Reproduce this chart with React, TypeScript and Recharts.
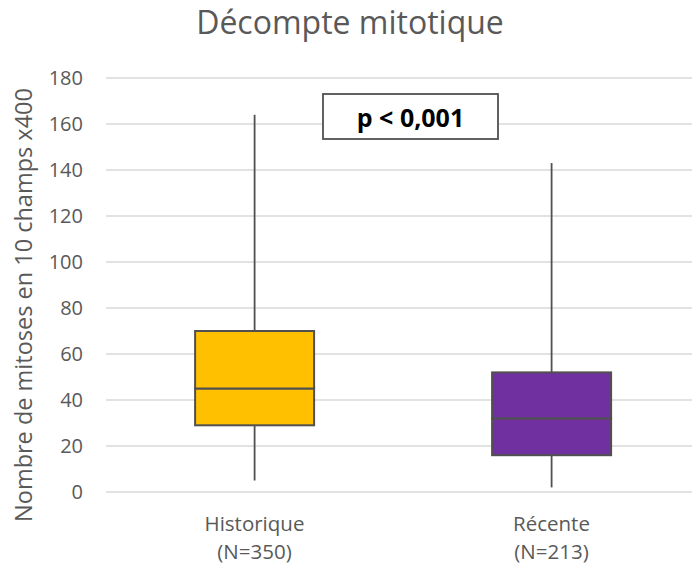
import React from 'react'
import { ComposedChart, Bar, XAxis, YAxis, CartesianGrid } from 'recharts'

// box plot values
const categories = ['Historique', 'Récente']
const counts = [350, 213]
const mins = [5, 2]
const q1s = [29, 16]
const medians = [45, 32]
const q3s = [70, 52]
const maxs = [164, 143]
const yTicks = [0, 20, 40, 60, 80, 100, 120, 140, 160, 180]

const boxColors = ['#FFC000', '#7030A0']
const edge = '#505050'
const textGrey = '#595959'
const font = '"Open Sans", sans-serif'

const data = categories.map((name, i) => ({
  name,
  base: mins[i],
  lowWhisker: q1s[i] - mins[i],
  lowBox: medians[i] - q1s[i],
  highBox: q3s[i] - medians[i],
  highWhisker: maxs[i] - q3s[i],
}))

const Whisker = (props: any) => {
  const { x, y, width, height } = props
  const cx = x + width / 2
  return <line x1={cx} x2={cx} y1={y} y2={y + height} stroke={edge} strokeWidth={1.8} />
}

const Box = (props: any) => {
  const { x, y, width, height, index } = props
  return (
    <rect x={x} y={y} width={width} height={height}
      fill={boxColors[index]} stroke={edge} strokeWidth={2} />
  )
}

const CategoryTick = (props: any) => {
  const { x, y, payload, index } = props
  return (
    <text x={x} y={y} textAnchor="middle" fill={textGrey} fontSize={20.5} fontFamily={font}>
      <tspan x={x} dy={31}>{payload.value}</tspan>
      <tspan x={x} dy={28}>{`(N=${counts[index]})`}</tspan>
    </text>
  )
}

const AxisTitle = (props: any) => {
  const { viewBox } = props
  const cx = 23
  const cy = viewBox.y + viewBox.height / 2 + 20
  return (
    <text x={cx} y={cy} transform={`rotate(-90 ${cx} ${cy})`} textAnchor="middle"
      dominantBaseline="central" fill={textGrey} fontSize={23.5} fontFamily={font}>
      Nombre de mitoses en 10 champs x400
    </text>
  )
}

export default function App() {
  return (
    <div style={{ position: 'fixed', left: 0, top: 0, width: 692, height: 566, overflow: 'hidden', background: '#fff' }}>
      <ComposedChart width={700} height={566} data={data}
        margin={{ top: 78, right: 0, bottom: 14, left: 0 }} barCategoryGap="30%">
        <CartesianGrid vertical={false} stroke="#d9d9d9" strokeWidth={1.5} />
        <XAxis dataKey="name" axisLine={false} tickLine={false} height={60}
          tick={<CategoryTick />} interval={0} />
        <YAxis domain={[0, 180]} ticks={yTicks} axisLine={false} tickLine={false}
          tickSize={0} tickMargin={23} width={106}
          tick={{ fill: textGrey, fontSize: 20, fontFamily: font }}
          label={<AxisTitle />} />
        <Bar dataKey="base" stackId="b" fill="transparent" isAnimationActive={false} />
        <Bar dataKey="lowWhisker" stackId="b" shape={<Whisker />} isAnimationActive={false} />
        <Bar dataKey="lowBox" stackId="b" shape={<Box />} isAnimationActive={false} />
        <Bar dataKey="highBox" stackId="b" shape={<Box />} isAnimationActive={false} />
        <Bar dataKey="highWhisker" stackId="b" shape={<Whisker />} isAnimationActive={false} />
      </ComposedChart>
      <svg width={692} height={566} style={{ position: 'absolute', left: 0, top: 0, pointerEvents: 'none' }}>
        <text x={350} y={34} textAnchor="middle" fill={textGrey} fontSize={32} fontFamily={font}>
          Décompte mitotique
        </text>
        <rect x={323} y={94} width={175} height={45} fill="#fff" stroke={edge} strokeWidth={1.8} />
        <text x={410.5} y={117} textAnchor="middle" dominantBaseline="central"
          fill="#000" fontSize={25} fontWeight={700} fontFamily={font}>
          p &lt; 0,001
        </text>
      </svg>
    </div>
  )
}
